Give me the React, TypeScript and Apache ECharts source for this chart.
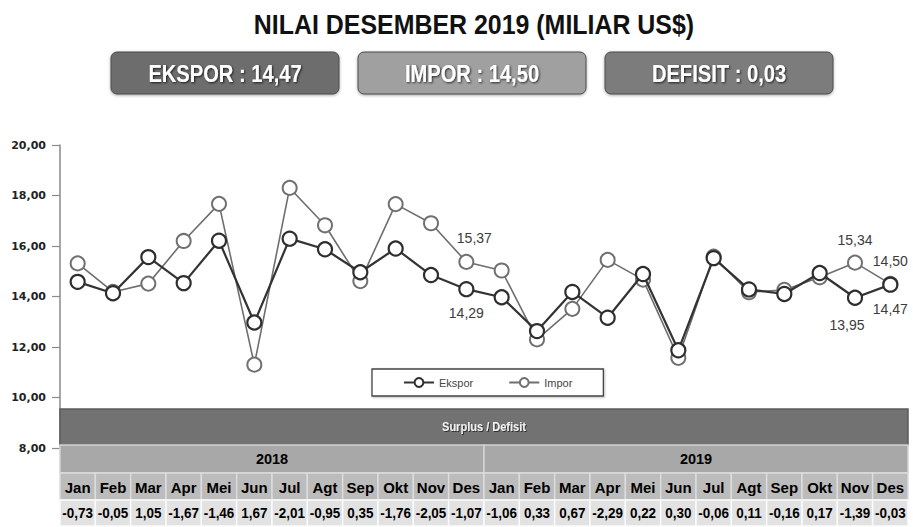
import React, { useEffect, useRef } from 'react';
import * as echarts from 'echarts';

const months = ['Jan', 'Feb', 'Mar', 'Apr', 'Mei', 'Jun', 'Jul', 'Agt', 'Sep', 'Okt', 'Nov', 'Des'];
const years = ['2018', '2019'];
const categories = years.flatMap((y) => months.map((m) => `${m} ${y}`));
const ekspor = [14.58, 14.13, 15.56, 14.53, 16.21, 12.97, 16.29, 15.87, 14.96, 15.9, 14.85, 14.29,
  13.97, 12.63, 14.18, 13.16, 14.89, 11.87, 15.52, 14.28, 14.1, 14.93, 13.95, 14.47];
const impor = [15.31, 14.18, 14.51, 16.2, 17.67, 11.3, 18.3, 16.82, 14.61, 17.66, 16.9, 15.37,
  15.03, 12.3, 13.51, 15.45, 14.67, 11.57, 15.58, 14.17, 14.26, 14.76, 15.34, 14.5];
const surplus = [-0.73, -0.05, 1.05, -1.67, -1.46, 1.67, -2.01, -0.95, 0.35, -1.76, -2.05, -1.07,
  -1.06, 0.33, 0.67, -2.29, 0.22, 0.3, -0.06, 0.11, -0.16, 0.17, -1.39, -0.03];
const summaryLabels = ['EKSPOR', 'IMPOR', 'DEFISIT'];
const summaryValues = [14.47, 14.5, 0.03];
const yTicks = { min: 8, max: 20, interval: 2 };
const titleText = 'NILAI DESEMBER 2019 (MILIAR US$)';
const tableTitle = 'Surplus / Defisit';

const fmt = (v: number) => v.toFixed(2).replace('.', ',');

const W = 913;
const H = 527;
const GL = 60;
const GR = 908;
const GT = 145;
const GB = 79;
const SANS = '"Liberation Sans", Arial, sans-serif';

// label placement for labelled points (styling only)
const eksporLabelCfg: Record<number, any> = {
  11: { position: 'bottom', distance: 9, offset: [0, 0] },
  22: { position: 'bottom', distance: 12, offset: [-8, 0] },
  23: { position: 'bottom', distance: 9, offset: [0, 0] },
};
const imporLabelCfg: Record<number, any> = {
  11: { position: 'top', distance: 9, offset: [8, 0] },
  22: { position: 'top', distance: 8, offset: [0, 0] },
  23: { position: 'top', distance: 8, offset: [0, 0] },
};

function buildData(values: number[], cfg: Record<number, any>) {
  return values.map((v, i) =>
    cfg[i]
      ? {
          value: v,
          label: {
            show: true,
            position: cfg[i].position,
            distance: cfg[i].distance,
            offset: cfg[i].offset,
            formatter: (p: any) => fmt(p.value),
            fontSize: 14,
            fontFamily: SANS,
            color: '#3c3c3c',
          },
        }
      : v
  );
}

function txt(
  x: number,
  y: number,
  text: string,
  size: number,
  weight: string,
  fill: string,
  extra: any = {},
  scaleX = 1
) {
  return {
    type: 'text',
    x,
    y,
    scaleX,
    z: 110,
    style: {
      text,
      fontSize: size,
      fontWeight: weight,
      fontFamily: SANS,
      fill,
      align: 'center',
      verticalAlign: 'middle',
      textAlign: 'center',
      textVerticalAlign: 'middle',
      ...extra,
    },
  };
}

function buildGraphics() {
  const els: any[] = [];
  // title
  els.push(txt(474, 24, titleText, 28, 'bold', '#111', {}, 0.89));
  // summary boxes
  const boxX = [111, 358, 605];
  const boxFill = ['#6d6d6d', '#a0a0a0', '#7c7c7c'];
  summaryLabels.forEach((lab, i) => {
    els.push({
      type: 'rect',
      z: 100,
      shape: { x: boxX[i], y: 52, width: 228, height: 42, r: 6 },
      style: {
        fill: boxFill[i],
        stroke: '#4a4a4a',
        lineWidth: 1,
        shadowBlur: 3,
        shadowColor: 'rgba(0,0,0,0.35)',
        shadowOffsetY: 1,
      },
    });
    els.push(
      txt(
        boxX[i] + 114,
        74,
        `${lab} : ${fmt(summaryValues[i])}`,
        23,
        'bold',
        '#ffffff',
        {
          textShadowColor: 'rgba(0,0,0,0.75)',
          textShadowBlur: 2,
          textShadowOffsetX: 1,
          textShadowOffsetY: 1,
        },
        0.875
      )
    );
  });

  // table
  const tw = GR - GL;
  const cw = tw / categories.length;
  const y0 = 409;
  els.push({
    type: 'rect',
    z: 100,
    shape: { x: GL, y: y0, width: tw, height: 36 },
    style: { fill: '#727272', stroke: '#5c5c5c', lineWidth: 1.5 },
  });
  els.push(
    txt((GL + GR) / 2, y0 + 18, tableTitle, 12, 'bold', '#f0f0f0', {
      textShadowColor: 'rgba(0,0,0,0.6)',
      textShadowBlur: 1,
      textShadowOffsetX: 1,
      textShadowOffsetY: 1,
    }, 0.92)
  );
  const yy = y0 + 36;
  years.forEach((yr, i) => {
    const x = GL + i * months.length * cw;
    const w = months.length * cw;
    els.push({
      type: 'rect',
      z: 100,
      shape: { x, y: yy, width: w, height: 28 },
      style: { fill: '#a8a8a8', stroke: '#d4d4d4', lineWidth: 1.5 },
    });
    els.push(txt(x + w / 2, yy + 14, yr, 14.5, 'bold', '#000'));
  });
  const my = yy + 28;
  const vy = my + 27;
  categories.forEach((_, i) => {
    const x = GL + i * cw;
    els.push({
      type: 'rect',
      z: 100,
      shape: { x, y: my, width: cw, height: 27 },
      style: { fill: '#bcbcbc', stroke: '#dcdcdc', lineWidth: 1.5 },
    });
    els.push(txt(x + cw / 2, my + 14, months[i % months.length], 15, 'bold', '#000'));
    els.push({
      type: 'rect',
      z: 100,
      shape: { x, y: vy, width: cw, height: 26 },
      style: { fill: '#e2e2e2', stroke: '#fbfbfb', lineWidth: 1.5 },
    });
    els.push(txt(x + cw / 2, vy + 13, fmt(surplus[i]), 14, 'bold', '#000', {}, 0.96));
  });
  return els;
}

export default function App() {
  const ref = useRef<HTMLDivElement>(null);
  useEffect(() => {
    document.body.style.margin = '0';
    if (!ref.current) return;
    const chart = echarts.init(ref.current, undefined, { renderer: 'svg' });
    chart.setOption({
      animation: false,
      backgroundColor: '#ffffff',
      grid: { left: GL, right: W - GR, top: GT, bottom: GB, containLabel: false },
      legend: {
        data: ['Ekspor', 'Impor'],
        left: 372,
        top: 369,
        orient: 'horizontal',
        borderColor: '#444',
        borderWidth: 1.3,
        padding: [8, 31, 8, 31],
        itemGap: 35,
        itemWidth: 30,
        itemHeight: 11,
        shadowBlur: 2,
        shadowColor: 'rgba(0,0,0,0.25)',
        shadowOffsetX: 1,
        shadowOffsetY: 1,
        backgroundColor: '#fff',
        textStyle: { fontSize: 11, color: '#444', fontFamily: SANS },
      },
      xAxis: {
        type: 'category',
        data: categories,
        boundaryGap: true,
        axisLine: { show: false },
        axisTick: { show: false },
        axisLabel: { show: false },
        splitLine: { show: false },
      },
      yAxis: {
        type: 'value',
        min: yTicks.min,
        max: yTicks.max,
        interval: yTicks.interval,
        axisLine: { show: true, lineStyle: { color: '#8a8a8a', width: 1.5 } },
        axisTick: { show: true, length: 8, lineStyle: { color: '#8a8a8a', width: 1.2 } },
        splitLine: { show: false },
        axisLabel: {
          margin: 14,
          formatter: (v: number) => fmt(v),
          fontFamily: '"DejaVu Sans", sans-serif',
          fontWeight: 'bold',
          fontSize: 11,
          color: '#222',
        },
      },
      series: [
        {
          name: 'Impor',
          type: 'line',
          data: buildData(impor, imporLabelCfg),
          symbol: 'circle',
          symbolSize: 14,
          z: 2,
          lineStyle: { color: '#6e6e6e', width: 1.6 },
          itemStyle: { color: '#ffffff', borderColor: '#707070', borderWidth: 2 },
        },
        {
          name: 'Ekspor',
          type: 'line',
          data: buildData(ekspor, eksporLabelCfg),
          symbol: 'circle',
          symbolSize: 14,
          z: 3,
          lineStyle: { color: '#333333', width: 2.2 },
          itemStyle: { color: '#ffffff', borderColor: '#2e2e2e', borderWidth: 2.2 },
        },
      ],
      graphic: { elements: buildGraphics() },
    });
    return () => chart.dispose();
  }, []);
  return <div ref={ref} style={{ width: W, height: H }} />;
}
